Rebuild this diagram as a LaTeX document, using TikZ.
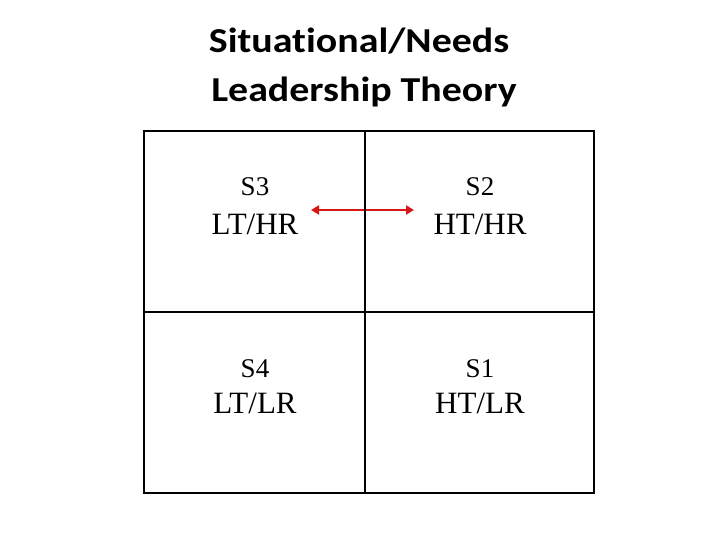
\documentclass[tikz,border=0pt]{standalone}
\usepackage{fontspec}
\setmainfont{Liberation Serif}
\newfontfamily\titlefont[FakeStretch=1.14,Ligatures=NoCommon]{Carlito}
\usetikzlibrary{arrows.meta}
\definecolor{arrowred}{RGB}{215,22,22}
\tikzset{
  cell/.style={draw=black, line width=2pt, inner sep=0pt, minimum height=181pt},
  leftcell/.style={cell, minimum width=221pt},
  rightcell/.style={cell, minimum width=229pt},
  toptext/.style={anchor=base, inner sep=0pt, font=\fontsize{27}{30}\selectfont},
  bottext/.style={anchor=base, inner sep=0pt, font=\fontsize{31}{36}\selectfont},
  titletext/.style={anchor=base, inner sep=0pt, font=\titlefont\bfseries\fontsize{35}{42}\selectfont},
  link/.style={draw=arrowred, line width=2.5pt, {Triangle[length=8pt,width=9pt]}-{Triangle[length=8pt,width=9pt]}}
}
\begin{document}
\begin{tikzpicture}[x=1pt,y=-1pt]
\useasboundingbox (0,0) rectangle (720,540);
\node[titletext] (t1) at (359,53) {Situational/Needs};
\node[titletext] (t2) at (364,102) {Leadership Theory};
\coordinate (arrL) at (311,210);
\coordinate (arrR) at (414,210);
\draw[link] (arrL) -- (arrR);
\node[leftcell] (c3) at (254.5,221.5) {};
\node[rightcell] (c2) at (479.5,221.5) {};
\node[leftcell] (c4) at (254.5,402) {};
\node[rightcell] (c1) at (479.5,402) {};
\node[toptext] (s3) at (255,196) {S3};
\node[bottext] (s3b) at (255,234) {LT/HR};
\node[toptext] (s2) at (480,196) {S2};
\node[bottext] (s2b) at (480,234) {HT/HR};
\node[toptext] (s4) at (255,377) {S4};
\node[bottext] (s4b) at (255,413) {LT/LR};
\node[toptext] (s1) at (480,377) {S1};
\node[bottext] (s1b) at (480,413) {HT/LR};
\end{tikzpicture}
\end{document}
